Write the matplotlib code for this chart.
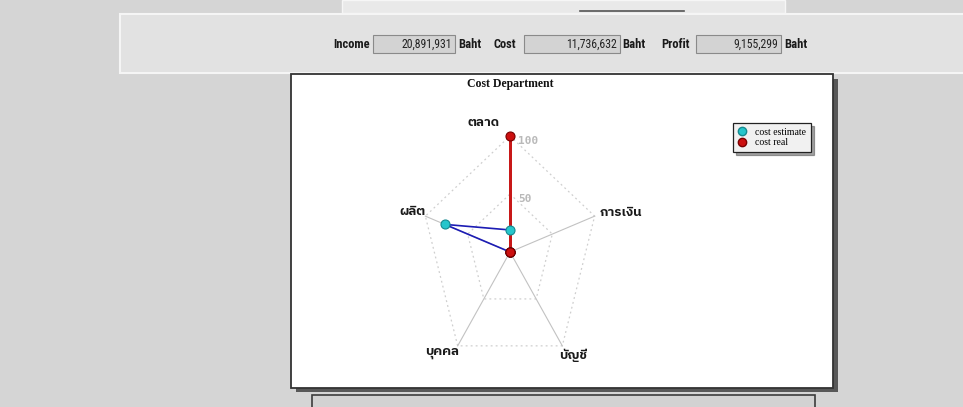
import matplotlib
matplotlib.use('Agg')
import matplotlib.pyplot as plt
import numpy as np
from matplotlib import font_manager, ft2font
from matplotlib.patches import Rectangle, Polygon
from matplotlib.lines import Line2D

# department radar values (percent of budget)
categories = ['ตลาด', 'การเงิน', 'บัญชี', 'บุคคล', 'ผลิต']
cost_estimate = [19, 0, 0, 0, 77]
cost_real = [100, 0, 0, 0, 0]
ring_values = [50, 100]

summary_labels = ['Income', 'Cost', 'Profit']
summary_values = ['20,891,931', '11,736,632', '9,155,299']


def thai_family():
    # first installed font that carries Thai glyphs
    fonts = sorted(font_manager.fontManager.ttflist, key=lambda f: 'Thai' not in f.name)
    for f in fonts:
        try:
            if ord('ก') in ft2font.FT2Font(f.fname).get_charmap():
                return f.name
        except Exception:
            pass
    return 'DejaVu Sans'


def narrow_family():
    names = {f.name for f in font_manager.fontManager.ttflist}
    for n in ['Liberation Sans Narrow', 'Roboto Condensed', 'Open Sans Condensed']:
        if n in names:
            return n
    return 'Liberation Sans'


THAI = [thai_family(), 'DejaVu Sans']
NARROW = narrow_family()

W, H = 963, 407
fig = plt.figure(figsize=(W / 100, H / 100), dpi=100, facecolor='#d5d5d5')

# page layout in pixel units
page = fig.add_axes([0, 0, 1, 1])
page.set_xlim(0, W)
page.set_ylim(H, 0)
page.axis('off')

page.add_patch(Rectangle((342, 0), 443, 13, fc='#e9e9e9', ec='#f6f6f6', lw=1))
page.plot([580, 684], [11, 11], color='#555555', lw=1.2)
page.add_patch(Rectangle((120, 14), 850, 59, fc='#e2e2e2', ec='#f5f5f5', lw=1.5))

# summary row
lab_right = [370, 516, 690]
box_left = [373, 524, 696]
box_w = [82, 96, 85]
baht_x = [458, 622, 784]
ty = 44
for lab, val, lx, bx, bw, kx in zip(summary_labels, summary_values, lab_right, box_left, box_w, baht_x):
    page.text(lx, ty, lab, ha='right', va='center', fontsize=9, fontweight='bold',
              family=NARROW, color='#1a1a1a')
    page.add_patch(Rectangle((bx, ty - 9), bw, 18, fc='#d3d3d3', ec='#8a8a8a', lw=0.8))
    page.text(bx + bw - 3, ty, val, ha='right', va='center', fontsize=8.5,
              family=NARROW, color='#222222')
    page.text(kx, ty, 'Baht', ha='left', va='center', fontsize=9, fontweight='bold',
              family=NARROW, color='#1a1a1a')

# chart frame with drop shadow
page.add_patch(Rectangle((296, 79), 542, 313, fc='#585858', ec='none'))
page.add_patch(Rectangle((291, 74), 542, 314, fc='white', ec='#333333', lw=1.3))
page.add_patch(Rectangle((312, 395), 503, 14, fc='#d2d2d2', ec='#3c3c3c', lw=1.2))
page.text(510, 84, 'Cost Department', ha='center', va='center', fontsize=8.5,
          fontweight='bold', family='Liberation Serif', color='#111111')

# radar drawn on a stretched cartesian axes (89 px per 100 across, 116 px per 100 up)
cx, cy = 510, 252
sx, sy = 0.89, 1.16
xr, yr = 150, 120
radar = fig.add_axes([(cx - xr * sx) / W, (H - cy - yr * sy) / H,
                      2 * xr * sx / W, 2 * yr * sy / H])
radar.set_xlim(-xr, xr)
radar.set_ylim(-yr, yr)
radar.axis('off')
radar.patch.set_alpha(0)

n = len(categories)
theta = np.arange(n) * 2 * np.pi / n
ux, uy = np.sin(theta), np.cos(theta)

for r in ring_values:
    radar.add_patch(Polygon(np.column_stack([r * ux, r * uy]), closed=True, fill=False,
                            ec='#cfcfcf', lw=0.9, ls=(0, (1.5, 2.5))))
for x, y in zip(ux, uy):
    radar.plot([0, 100 * x], [0, 100 * y], color='#c2c2c2', lw=0.8)

for r in ring_values:
    radar.text(9, r - 4, str(r), ha='left', va='center', fontsize=8,
               family='DejaVu Sans Mono', fontweight='bold', color='#b9b9b9')


def draw_series(vals, line_color, face, edge, lw):
    v = np.array(vals + vals[:1], dtype=float)
    xs = v * np.append(ux, ux[0])
    ys = v * np.append(uy, uy[0])
    radar.plot(xs, ys, color=line_color, lw=lw, solid_capstyle='round', zorder=3)
    radar.plot(xs[:-1], ys[:-1], ls='none', marker='o', ms=6.5, mfc=face, mec=edge,
               mew=0.8, zorder=4)


draw_series(cost_estimate, '#1c1cb4', '#26c6cc', '#168a90', 1.2)
draw_series(cost_real, '#c81818', '#cc1010', '#7a0000', 2.0)

# category labels around the pentagon
label_pos = [(-30, 112), (125, 34), (71, -89), (-76, -87), (-109, 35)]
for name, (x, y) in zip(categories, label_pos):
    radar.text(x, y, name, ha='center', va='center', fontsize=9.5, family=THAI,
               fontweight='bold', color='#1a1a1a')

handles = [Line2D([], [], ls='none', marker='o', ms=6, mfc='#26c6cc', mec='#168a90'),
           Line2D([], [], ls='none', marker='o', ms=6, mfc='#cc1010', mec='#7a0000')]
leg = radar.legend(handles, ['cost estimate', 'cost real'], loc='upper left',
                   bbox_to_anchor=(733 / W, 1 - 123 / H), bbox_transform=fig.transFigure,
                   borderaxespad=0, frameon=True, fancybox=False, shadow=True, framealpha=1,
                   prop={'family': 'Liberation Serif', 'size': 7},
                   borderpad=0.5, handletextpad=1.0, labelspacing=0.15, handlelength=0.8)
leg.get_frame().set_edgecolor('#222222')
leg.get_frame().set_facecolor('#f1f1f1')
leg.get_frame().set_linewidth(0.9)

fig.savefig('out.png', dpi=100, facecolor=fig.get_facecolor())
